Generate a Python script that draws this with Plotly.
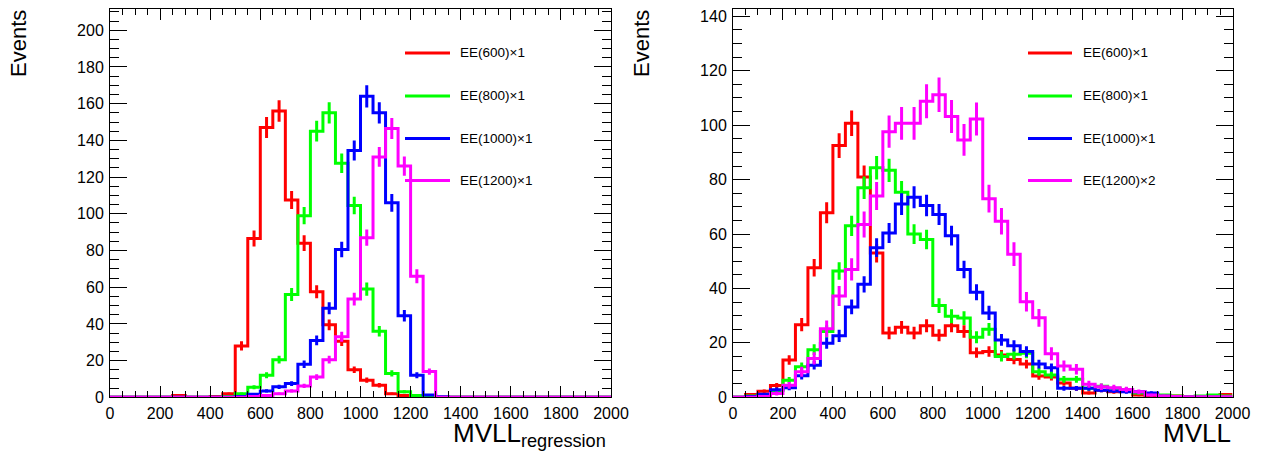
import plotly.graph_objects as go
import numpy as np

# target page size and the browser's default 8px body margin
PAGE_W, PAGE_H = 1265, 452
OFF = 8
W, H = PAGE_W - OFF, PAGE_H - OFF

# ---------------- data ----------------
BIN_EDGES = list(range(0, 2001, 50))          # 40 bins of width 50

# left panel: MVLL_regression
L_RED = [0, 0, 0, 0, 0, 1, 0, 0, 0.5, 2,
         28, 86.5, 147, 156, 107.5, 84, 57.5, 39.5, 30.5, 15,
         9.3, 6.6, 2, 1, 0.5, 0, 0, 0, 0, 0,
         0, 0, 0, 0, 0, 0, 0, 0, 0, 0]
L_GREEN = [0, 0, 0, 0, 0, 0, 0, 0, 0, 0.5,
           2, 5.5, 12, 20.5, 56, 99, 145, 155, 127.5, 104.5,
           59, 36, 13, 3, 1, 0, 0, 0, 0, 0,
           0, 0, 0, 0, 0, 0, 0, 0, 0, 0]
L_BLUE = [0, 0, 0, 0, 0, 0, 0, 0, 0, 0,
          0.5, 1.6, 3.5, 5.7, 7.5, 18, 31, 48.5, 80.5, 134.5,
          164, 155, 106, 44.5, 12, 1.2, 0.3, 0, 0, 0,
          0, 0, 0, 0, 0, 0, 0, 0, 0, 0]
L_MAGENTA = [0, 0, 0, 0, 0, 0, 0, 0, 0, 0,
             0, 0.5, 1, 2, 3.5, 6.2, 11, 20.5, 33, 53.5,
             87, 131, 146.5, 126, 66, 14, 0, 0, 0, 0,
             0, 0, 0, 0, 0, 0, 0, 0, 0, 0]

# right panel: MVLL
R_RED = [0, 1, 2.2, 4.3, 13.7, 26.7, 47.6, 67.8, 92.5, 100.7,
         81, 53, 23.6, 25.7, 23.6, 26.3, 22.8, 26.3, 24.2, 16.4,
         16.8, 15.5, 13.9, 12.2, 7.8, 7.5, 5.3, 3.3, 1.6, 2.6,
         2, 2.3, 0.8, 0.5, 0.3, 0.5, 0.3, 0.3, 0.5, 1]
R_GREEN = [0, 0.5, 1, 2.5, 6.3, 11.2, 17.5, 24.2, 46.4, 63,
           77, 84.4, 83.4, 75.4, 60, 58, 33.7, 29.8, 29.1, 22.1,
           25, 15, 15.8, 16.2, 9.4, 8.2, 6.6, 6.6, 3.3, 4.1,
           3.3, 2.9, 1.6, 1.4, 0.8, 0.5, 0.3, 0.5, 0.8, 0.5]
R_BLUE = [0, 0.3, 1.1, 2.8, 3.5, 7.9, 11.8, 19.9, 22.6, 33.2,
          41.5, 55, 60.4, 71, 73.5, 70.5, 67.2, 59.4, 47, 38.6,
          31, 21.1, 18.9, 16.8, 12.2, 10.9, 3.3, 3.3, 3.3, 2.6,
          2.3, 2, 2, 1.6, 0.4, 0, 0, 0, 0, 0]
R_MAGENTA = [0, 0, 0.3, 1.4, 4.4, 9.4, 14.3, 25.2, 37.2, 47,
             63.5, 74, 97.6, 100.7, 100.7, 108.8, 111.2, 103.2, 94.6, 102.3,
             73, 64.7, 52.6, 35.1, 29.2, 16, 11.5, 10.3, 4.8, 3.9,
             3.5, 2.9, 2, 0.8, 0.5, 0.3, 0.2, 0.2, 0.2, 0.2]

LEFT_LABELS = ["EE(600)×1", "EE(800)×1", "EE(1000)×1", "EE(1200)×1"]
RIGHT_LABELS = ["EE(600)×1", "EE(800)×1", "EE(1000)×1", "EE(1200)×2"]
COLORS = ["#ff0000", "#00ff00", "#0000ff", "#ff00ff"]
# statistical error scale factors (error = k * sqrt(content))
LEFT_ERR_K = [0.47, 0.47, 0.47, 0.47]
RIGHT_ERR_K = [0.47, 0.47, 0.47, 0.6]

X_TICKS = list(range(0, 2001, 200))


def fx(p):
    """page pixel x -> paper fraction"""
    return (p - OFF) / W


def fy(p):
    """page pixel y (from top) -> paper fraction"""
    return 1 - (p - OFF) / H


# ---------------- figure ----------------
fig = go.Figure()
edges = np.array(BIN_EDGES, dtype=float)
centers = 0.5 * (edges[:-1] + edges[1:])


def add_hist(vals, color, k, xa, ya):
    vals = np.array(vals, dtype=float)
    fig.add_trace(go.Scatter(
        x=edges, y=np.append(vals, vals[-1]), mode="lines",
        line=dict(color=color, width=3, shape="hv"),
        xaxis=xa, yaxis=ya, hoverinfo="skip", showlegend=False))
    m = vals > 0
    fig.add_trace(go.Scatter(
        x=centers[m], y=vals[m], mode="markers",
        marker=dict(size=1, color=color, opacity=0),
        error_y=dict(type="data", array=k * np.sqrt(vals[m]),
                     color=color, thickness=3, width=0, visible=True),
        xaxis=xa, yaxis=ya, hoverinfo="skip", showlegend=False))


for vals, c, k in zip([L_RED, L_GREEN, L_BLUE, L_MAGENTA], COLORS, LEFT_ERR_K):
    add_hist(vals, c, k, "x", "y")
for vals, c, k in zip([R_RED, R_GREEN, R_BLUE, R_MAGENTA], COLORS, RIGHT_ERR_K):
    add_hist(vals, c, k, "x2", "y2")

FONT = "Liberation Sans, Arial, Helvetica, sans-serif"
tickfont = dict(family=FONT, size=16, color="black")

ydom = [fy(397.3), fy(9)]


def xaxis(domain, anchor):
    return dict(domain=domain, anchor=anchor, range=[0, 2000],
                tickvals=X_TICKS, ticktext=[str(v) for v in X_TICKS],
                ticks="inside", ticklen=11, tickwidth=1, tickcolor="black",
                minor=dict(dtick=50, tick0=0, ticks="inside", ticklen=6,
                           tickwidth=1, tickcolor="black", showgrid=False),
                showline=True, linecolor="black", linewidth=1, mirror="allticks",
                showgrid=False, zeroline=False, tickfont=tickfont,
                ticklabelstandoff=1, ticklabeloverflow="allow", automargin=False)


def yaxis(anchor, top):
    return dict(domain=ydom, anchor=anchor, range=[0, top],
                dtick=20, tick0=0,
                ticks="inside", ticklen=17, tickwidth=1, tickcolor="black",
                minor=dict(dtick=5, tick0=0, ticks="inside", ticklen=9,
                           tickwidth=1, tickcolor="black", showgrid=False),
                showline=True, linecolor="black", linewidth=1, mirror="allticks",
                showgrid=False, zeroline=False, tickfont=tickfont,
                ticklabelstandoff=2, ticklabeloverflow="allow", automargin=False)


fig.update_layout(
    width=W, height=H,
    margin=dict(l=0, r=0, t=0, b=0, pad=0, autoexpand=False),
    paper_bgcolor="white", plot_bgcolor="white",
    showlegend=False,
    xaxis=xaxis([fx(110), fx(611)], "y"),
    yaxis=yaxis("x", 211.6),
    xaxis2=xaxis([fx(733), fx(1232.5)], "y2"),
    yaxis2=yaxis("x2", 142.7),
)

ann = []
# axis titles
ann.append(dict(text="Events", x=fx(18.5), y=fy(8), xref="paper", yref="paper",
                xanchor="center", yanchor="top", textangle=-90, showarrow=False,
                font=dict(family=FONT, size=22, color="black")))
ann.append(dict(text="Events", x=fx(641.5), y=fy(8), xref="paper", yref="paper",
                xanchor="center", yanchor="top", textangle=-90, showarrow=False,
                font=dict(family=FONT, size=22, color="black")))
ann.append(dict(text="MVLL<sub>regression</sub>", x=fx(608), y=fy(434),
                xref="paper", yref="paper", xanchor="right", yanchor="middle",
                showarrow=False, font=dict(family=FONT, size=26, color="black")))
ann.append(dict(text="MVLL", x=fx(1233), y=fy(433),
                xref="paper", yref="paper", xanchor="right", yanchor="middle",
                showarrow=False, font=dict(family=FONT, size=26, color="black")))

# legends
ROW_Y = [53, 96, 138.5, 180.5]
shapes = []
for (lx0, lx1, tx, labels) in [(405, 450, 458, LEFT_LABELS),
                               (1028, 1072, 1081, RIGHT_LABELS)]:
    for ry, lab, c in zip(ROW_Y, labels, COLORS):
        shapes.append(dict(type="line", xref="paper", yref="paper",
                           x0=fx(lx0), x1=fx(lx1), y0=fy(ry), y1=fy(ry),
                           line=dict(color=c, width=3)))
        ann.append(dict(text=lab, x=fx(tx), y=fy(ry), xref="paper", yref="paper",
                        xanchor="left", yanchor="middle", showarrow=False,
                        font=dict(family=FONT, size=13.5, color="black")))

fig.update_layout(annotations=ann, shapes=shapes)
fig.write_html("out.html")
